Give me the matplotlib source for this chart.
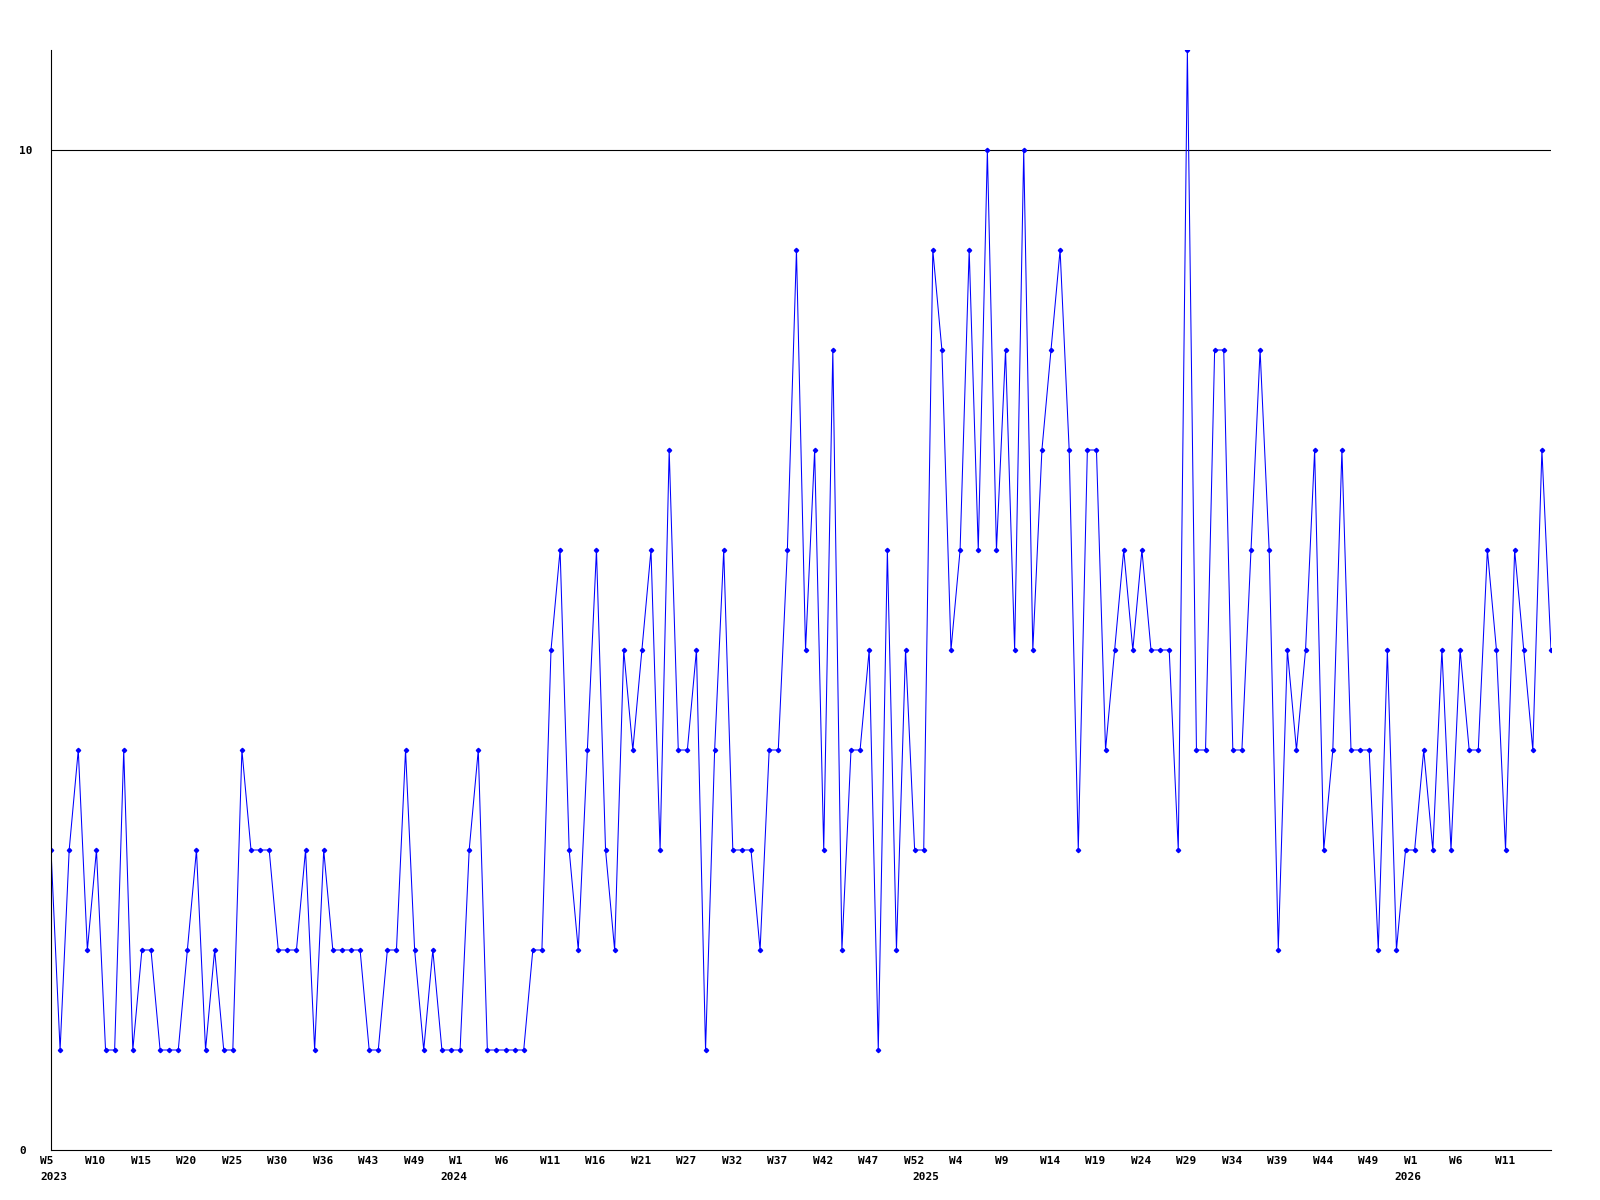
import matplotlib
matplotlib.use("Agg")
import matplotlib.pyplot as plt
from matplotlib.transforms import blended_transform_factory, ScaledTranslation

# weekly values, W5 2023 onwards
values = [3, 1, 3, 4, 2, 3, 1, 1, 4, 1, 2, 2, 1, 1, 1, 2, 3, 1, 2, 1,
          1, 4, 3, 3, 3, 2, 2, 2, 3, 1, 3, 2, 2, 2, 2, 1, 1, 2, 2, 4,
          2, 1, 2, 1, 1, 1, 3, 4, 1, 1, 1, 1, 1, 2, 2, 5, 6, 3, 2, 4,
          6, 3, 2, 5, 4, 5, 6, 3, 7, 4, 4, 5, 1, 4, 6, 3, 3, 3, 2, 4,
          4, 6, 9, 5, 7, 3, 8, 2, 4, 4, 5, 1, 6, 2, 5, 3, 3, 9, 8, 5,
          6, 9, 6, 10, 6, 8, 5, 10, 5, 7, 8, 9, 7, 3, 7, 7, 4, 5, 6, 5,
          6, 5, 5, 5, 3, 11, 4, 4, 8, 8, 4, 4, 6, 8, 6, 2, 5, 4, 5, 7,
          3, 4, 7, 4, 4, 4, 2, 5, 2, 3, 3, 4, 3, 5, 3, 5, 4, 4, 6, 5,
          3, 6, 5, 4, 7, 5]

week_labels = ["W5", "W10", "W15", "W20", "W25", "W30", "W36", "W43", "W49",
               "W1", "W6", "W11", "W16", "W21", "W27", "W32", "W37", "W42", "W47", "W52",
               "W4", "W9", "W14", "W19", "W24", "W29", "W34", "W39", "W44", "W49",
               "W1", "W6", "W11"]
week_step = 5

year_labels = ["2023", "2024", "2025", "2026"]
year_pos = [0, 44, 96, 149]

font = dict(family="DejaVu Sans Mono", fontsize=8, fontweight="bold", color="black")

fig = plt.figure(figsize=(16, 12), dpi=100)
ax = fig.add_axes([51 / 1600, 50 / 1200, 1500 / 1600, 1100 / 1200])

x = list(range(len(values)))
ax.plot(x, values, color="#0000ff", linewidth=0.75, marker="D", markersize=2.2,
        markerfacecolor="#0000ff", markeredgecolor="#0000ff")

ax.set_xlim(0, len(values) - 1)
ax.set_ylim(0, 11)
ax.axhline(10, color="black", linewidth=0.8, zorder=0)

for s in ["top", "right"]:
    ax.spines[s].set_visible(False)
for s in ["left", "bottom"]:
    ax.spines[s].set_linewidth(0.8)

ax.set_xticks([])
ax.set_yticks([0, 10])
ax.set_yticklabels(["0", "10"], ha="left", **font)
ax.tick_params(axis="y", length=0, pad=23)

base = blended_transform_factory(ax.transData, ax.transAxes)
week_trans = base + ScaledTranslation(-0.11, -0.11, fig.dpi_scale_trans)
year_trans = base + ScaledTranslation(-0.11, -0.27, fig.dpi_scale_trans)

for i, lab in enumerate(week_labels):
    ax.text(i * week_step, 0, lab, transform=week_trans, ha="left", va="center", **font)
for p, lab in zip(year_pos, year_labels):
    ax.text(p, 0, lab, transform=year_trans, ha="left", va="center", **font)

fig.savefig("out.png", dpi=100)
